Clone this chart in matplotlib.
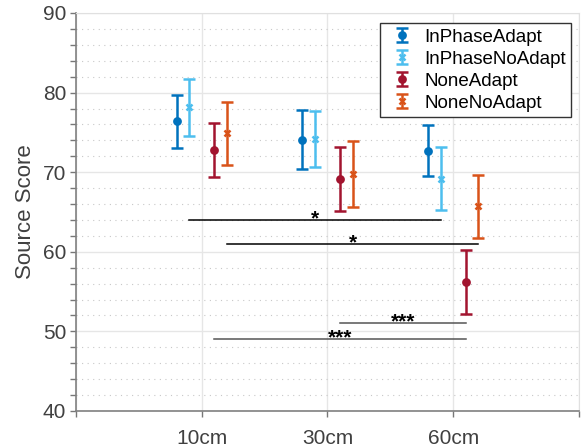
import matplotlib.pyplot as plt
from matplotlib.ticker import MultipleLocator
from matplotlib.container import ErrorbarContainer
from matplotlib.legend_handler import HandlerErrorbar

plt.rcParams['font.family'] = ['Liberation Sans', 'DejaVu Sans']

# --- datos ---
distances = ["10cm", "30cm", "60cm"]
conditions = ["InPhaseAdapt", "InPhaseNoAdapt", "NoneAdapt", "NoneNoAdapt"]
means = {
    "InPhaseAdapt":   [76.4, 74.1, 72.7],
    "InPhaseNoAdapt": [78.15, 74.2, 69.2],
    "NoneAdapt":      [72.8, 69.15, 56.2],
    "NoneNoAdapt":    [74.9, 69.8, 65.7],
}
errors = {
    "InPhaseAdapt":   [3.35, 3.75, 3.2],
    "InPhaseNoAdapt": [3.55, 3.55, 4.0],
    "NoneAdapt":      [3.4, 4.0, 4.05],
    "NoneNoAdapt":    [3.95, 4.15, 4.0],
}
# (x inicio, x fin, y, estrellas)
sig_pairs = [
    (0.9, 2.9, 64.0, "*"),
    (1.2, 3.2, 61.0, "*"),
    (2.1, 3.1, 51.0, "***"),
    (1.1, 3.1, 49.0, "***"),
]

colors = ["#0072BD", "#4DBEEE", "#A2142F", "#D95319"]
markers = ["o", "x", "o", "x"]
offsets = [-0.2, -0.1, 0.1, 0.2]

fig = plt.figure(figsize=(5.82, 4.48), dpi=100)
ax = fig.add_axes([0.1306, 0.0826, 0.8642, 0.8884])

for cond, c, m, off in zip(conditions, colors, markers, offsets):
    xs = [i + 1 + off for i in range(len(distances))]
    ax.errorbar(xs, means[cond], yerr=errors[cond], fmt=m, color=c,
                ecolor=c, elinewidth=1.8, capsize=4, capthick=1.8,
                markersize=4.5, markeredgewidth=1.8, label=cond, zorder=3)

for x0, x1, y, stars in sig_pairs:
    lc = "black" if len(stars) == 1 else "#555555"
    ax.plot([x0, x1], [y, y], color=lc, lw=1.1, zorder=2)
    ax.text((x0 + x1) / 2, y - 0.55, stars, ha="center", va="baseline",
            fontsize=15, fontweight="bold", color="black")

ax.set_xlim(0, 4)
ax.set_ylim(40, 90)
ax.set_xticks([0, 1, 2, 3, 4])
ax.set_xticklabels(["", "10cm", "30cm", "60cm", ""])
ax.set_yticks(range(40, 91, 10))
ax.yaxis.set_minor_locator(MultipleLocator(2))

ax.grid(True, which="major", color="#e6e6e6", lw=1, zorder=0)
ax.grid(True, which="minor", axis="y", color="#c8c8c8", lw=0.8,
        linestyle=(0, (1, 4)), zorder=0)
ax.set_axisbelow(True)

ax.tick_params(axis="both", which="major", labelsize=15, colors="#777777",
               labelcolor="#404040", length=4, width=1)
ax.tick_params(axis="y", which="minor", colors="#777777", length=4, width=1)
ax.tick_params(axis="x", pad=9)
ax.tick_params(axis="y", pad=3)
for side in ["left", "bottom"]:
    ax.spines[side].set_color("#808080")
    ax.spines[side].set_linewidth(1.2)
for side in ["top", "right"]:
    ax.spines[side].set_color("#e0e0e0")

ax.set_ylabel("Source Score", fontsize=16, color="#404040", labelpad=5)

leg = ax.legend(loc="upper right", bbox_to_anchor=(0.985, 0.975), fontsize=13.5,
                frameon=True, fancybox=False, framealpha=1, handlelength=1.75,
                handletextpad=0.3, borderpad=0.3, labelspacing=0.26,
                borderaxespad=0.0,
                handler_map={ErrorbarContainer: HandlerErrorbar(xerr_size=0.3, yerr_size=0.38)})
leg.get_frame().set_edgecolor("#333333")
leg.get_frame().set_linewidth(1)

fig.savefig("out.png", dpi=100)
